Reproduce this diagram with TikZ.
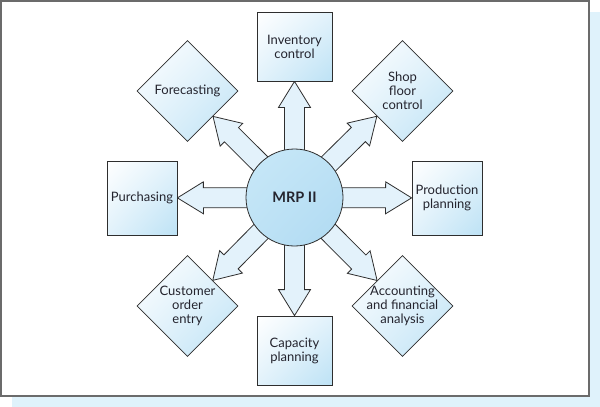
\documentclass[tikz,border=0pt]{standalone}
\usepackage{fontspec}
\setmainfont{Lato}
\usetikzlibrary{shapes.geometric,calc,shadings}
\definecolor{frameg}{HTML}{6B6B6B}
\definecolor{shadowb}{HTML}{DFF2FB}
\definecolor{lineg}{HTML}{2E2E2E}
\definecolor{txt}{HTML}{24242E}
\definecolor{boxlo}{HTML}{BDE2F5}
\definecolor{boxmid}{HTML}{E2F2FB}
\definecolor{arrfill}{HTML}{E3F2FB}
\definecolor{circhi}{HTML}{C8E8F8}
\definecolor{circlo}{HTML}{AFDAF2}
\definecolor{circmid}{HTML}{BEE2F5}
\pgfdeclarelayer{bg}
\pgfdeclarelayer{arr}
\pgfsetlayers{bg,arr,main}
\tikzset{
  every node/.style={font=\fontsize{13}{14}\selectfont, text=txt},
  boxnode/.style={draw=lineg, line width=0.8pt, rectangle, align=center, inner sep=0pt,
    upper left=white, upper right=boxmid, lower left=boxmid, lower right=boxlo},
  dianode/.style={draw=lineg, line width=0.8pt, diamond, inner sep=0pt,
    minimum width=101pt, minimum height=101pt,
    upper left=white, upper right=boxmid, lower left=boxmid, lower right=boxlo},
  dlabel/.style={align=center, inner sep=0pt},
  arrowsty/.style={draw=lineg, line width=0.8pt, fill=arrfill, line join=miter},
}
\newcommand\blockarrow[1]{%
  \path (mrp.center) -- (#1) coordinate[pos=1] (tip#1);
  \path ($(tip#1)!26pt!(mrp.center)$) coordinate (hb#1);
  \draw[arrowsty] ($(mrp.center)!10pt!90:(tip#1)$) -- ($(hb#1)!10pt!90:(tip#1)$)
    -- ($(hb#1)!16pt!90:(tip#1)$) -- (tip#1) -- ($(hb#1)!16pt!-90:(tip#1)$)
    -- ($(hb#1)!10pt!-90:(tip#1)$) -- ($(mrp.center)!10pt!-90:(tip#1)$) -- cycle;
}
\begin{document}
\begin{tikzpicture}[x=1pt,y=-1pt]
\useasboundingbox (0,0) rectangle (600,407);
\begin{pgfonlayer}{bg}
  \fill[shadowb] (12,12) rectangle (600,407);
  \fill[white] (1,1) rectangle (589,396);
  \draw[frameg, line width=2pt] (1,1) rectangle (589,396);
\end{pgfonlayer}

\node[circle, draw=lineg, line width=0.8pt, minimum size=97pt, inner sep=0pt,
  upper left=circhi, upper right=circmid, lower left=circmid, lower right=circlo,
  font=\fontsize{14.5}{16}\selectfont\bfseries] (mrp) at (294.5,197.5) {MRP II};

\node[boxnode, minimum width=75pt, minimum height=69pt] (inv) at (294.5,46.5) {Inventory\\control};
\node[boxnode, minimum width=75pt, minimum height=69pt] (cap) at (294.5,350.5) {Capacity\\planning};
\node[boxnode, minimum width=70pt, minimum height=74pt] (pur) at (142,198) {Purchasing};
\node[boxnode, minimum width=70pt, minimum height=74pt] (prod) at (447,198) {Production\\planning};

\node[dianode, label={[dlabel]center:Forecasting}] (fore) at (187.5,91) {};
\node[dianode, label={[dlabel]center:Shop\\floor\\control}] (shop) at (402.5,91) {};
\node[dianode, label={[dlabel]center:Customer\\order\\entry}] (cust) at (187.5,306) {};
\node[dianode, label={[dlabel]center:Accounting\\and financial\\analysis}] (acc) at (402.5,306) {};

\begin{pgfonlayer}{arr}
  \blockarrow{inv}
  \blockarrow{cap}
  \blockarrow{pur}
  \blockarrow{prod}
  \blockarrow{fore}
  \blockarrow{shop}
  \blockarrow{cust}
  \blockarrow{acc}
\end{pgfonlayer}
\end{tikzpicture}
\end{document}
